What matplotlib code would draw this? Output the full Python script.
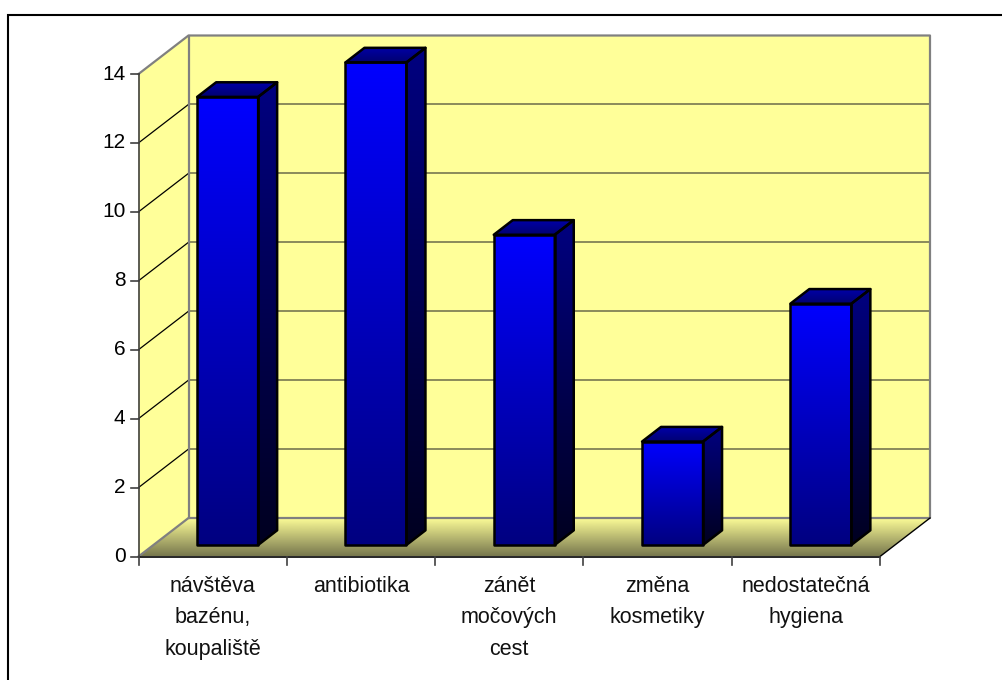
import numpy as np
import matplotlib
matplotlib.use("Agg")
import matplotlib.pyplot as plt
from matplotlib.colors import LinearSegmentedColormap
from matplotlib.patches import Polygon

plt.rcParams['font.family'] = ['Liberation Sans', 'DejaVu Sans']

categories = ["návštěva\nbazénu,\nkoupaliště", "antibiotika", "zánět\nmočových\ncest",
              "změna\nkosmetiky", "nedostatečná\nhygiena"]
values = [13, 14, 9, 3, 7]
y_ticks = [0, 2, 4, 6, 8, 10, 12, 14]

W, H = 1002, 680
# front plane of the box in pixels
X0, X1 = 138.5, 880.0
Y0, Y14 = 556.5, 74.0
PX_CAT = (X1 - X0) / len(categories)
PX_VAL = (Y0 - Y14) / 14
DEPTH_X = 50 / PX_CAT
DEPTH_Y = 38.5 / PX_VAL

fig = plt.figure(figsize=(W / 100, H / 100), dpi=100, facecolor="white")
ax = fig.add_axes([0, 0, 1, 1])
ax.set_xlim(-X0 / PX_CAT, (W - X0) / PX_CAT)
ax.set_ylim((Y0 - H) / PX_VAL, Y0 / PX_VAL)
ax.axis("off")


def proj(x, y, d=0.0):
    # oblique projection, d=0 front of the box, d=1 back wall
    return x + d * DEPTH_X, y + d * DEPTH_Y


def gradient_poly(pts, top, bottom, z, edge="black", lw=1.8):
    pts = np.array(pts)
    cmap = LinearSegmentedColormap.from_list("g", [top, bottom])
    grad = np.linspace(0, 1, 256).reshape(-1, 1)
    im = ax.imshow(grad, cmap=cmap, aspect="auto", zorder=z, interpolation="bilinear",
                   extent=(pts[:, 0].min(), pts[:, 0].max(), pts[:, 1].min(), pts[:, 1].max()),
                   origin="upper")
    poly = Polygon(pts, closed=True, fc="none", ec=edge, lw=lw, zorder=z + 0.1, joinstyle="round")
    ax.add_patch(poly)
    clip = Polygon(pts, closed=True, transform=ax.transData)
    im.set_clip_path(clip)


n = len(categories)
top = y_ticks[-1]
wall = "#ffff99"
grey = "#808080"

# back and side walls
ax.add_patch(Polygon([proj(0, 0, 1), proj(n, 0, 1), proj(n, top, 1), proj(0, top, 1)],
                     fc=wall, ec="none", zorder=1))
ax.add_patch(Polygon([proj(0, 0), proj(0, 0, 1), proj(0, top, 1), proj(0, top)],
                     fc=wall, ec="none", zorder=1))

# floor
gradient_poly([proj(0, 0), proj(n, 0), proj(n, 0, 1), proj(0, 0, 1)],
              "#ffff99", "#77774d", 2, edge="none", lw=0)

# gridlines across the back wall and down the side wall
for t in y_ticks[1:-1]:
    xs, ys = zip(proj(0, t, 1), proj(n, t, 1))
    ax.plot(xs, ys, color="#6b6b4a", lw=1.1, zorder=3)
    xs, ys = zip(proj(0, t), proj(0, t, 1))
    ax.plot(xs, ys, color="black", lw=0.9, zorder=3)

# wall outlines
outline = [proj(0, top), proj(0, top, 1), proj(n, top, 1), proj(n, 0, 1), proj(0, 0, 1), proj(0, 0)]
ax.plot(*zip(*outline), color=grey, lw=1.6, zorder=3)
ax.plot(*zip(proj(0, 0, 1), proj(0, top, 1)), color=grey, lw=1.6, zorder=3)
ax.plot(*zip(proj(n, 0), proj(n, 0, 1)), color="black", lw=1, zorder=3)

# axis lines and ticks
ax.plot([0, n], [0, 0], color="black", lw=1.2, zorder=6)
ax.plot([0, 0], [0, top], color="#404040", lw=1.2, zorder=6)
tick_x = 8 / PX_CAT
tick_y = 8 / PX_VAL
for t in y_ticks:
    ax.plot([-tick_x, 0], [t, t], color="#404040", lw=1.2, zorder=6)
    ax.text(-13 / PX_CAT, t, str(t), ha="right", va="center", fontsize=15, color="black")
for i in range(n + 1):
    ax.plot([i, i], [0, -tick_y], color="#404040", lw=1.2, zorder=6)

for i, label in enumerate(categories):
    ax.text(i + 0.5, -19 / PX_VAL, label, ha="center", va="top", fontsize=15.5,
            linespacing=1.66, color="#111111")

# bars
bar_w = 61 / PX_CAT
d0, d1 = 0.30, 0.68
for i, v in enumerate(values):
    xl = i + 0.5 - bar_w / 2
    xr = xl + bar_w
    z = 10 + i
    gradient_poly([proj(xl, 0, d0), proj(xr, 0, d0), proj(xr, v, d0), proj(xl, v, d0)],
                  "#0000ff", "#000080", z)
    gradient_poly([proj(xr, 0, d0), proj(xr, 0, d1), proj(xr, v, d1), proj(xr, v, d0)],
                  "#000080", "#000020", z)
    gradient_poly([proj(xl, v, d0), proj(xr, v, d0), proj(xr, v, d1), proj(xl, v, d1)],
                  "#0000a8", "#000070", z)

ax.set_xlim(-X0 / PX_CAT, (W - X0) / PX_CAT)
ax.set_ylim((Y0 - H) / PX_VAL, Y0 / PX_VAL)

# chart area frame, only the top and left edges fall inside the image
fig.add_artist(plt.Line2D([8 / W, 8 / W, 1], [0, 1 - 14.5 / H, 1 - 14.5 / H], color="black",
                          lw=1.5, transform=fig.transFigure, solid_joinstyle="miter"))

fig.savefig("out.png", dpi=100)
